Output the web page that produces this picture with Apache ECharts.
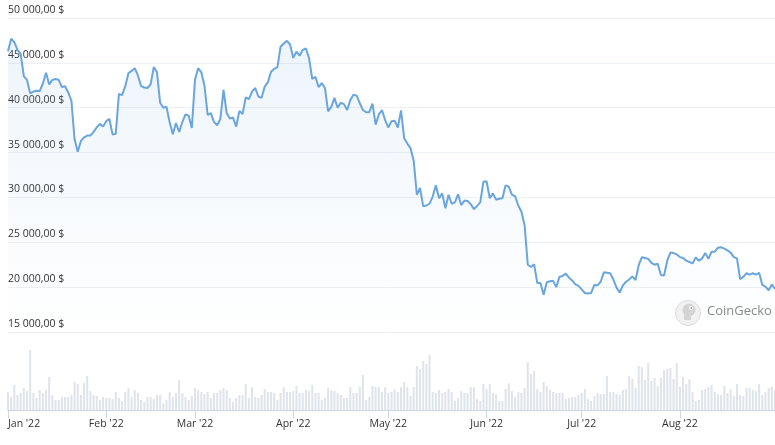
<!DOCTYPE html>
<html>
<head>
<meta charset="utf-8">
<script src="https://cdn.jsdelivr.net/npm/echarts@6/dist/echarts.min.js"></script>
<style>
html,body{margin:0;padding:0;background:#fff;}
#chart{width:775px;height:445px;}
</style>
</head>
<body>
<div id="chart"></div>
<script>
// ---- data (BTC price in USD, one point per day, 2022-01-01 .. 2022-08-31) ----
const startDate = '2022-01-01';
const priceJan = [46300,47700,47300,46450,46000,43500,43100,41600,41800,41900,41850,42700,43900,42600,43100,43200,43100,42300,42400,41700,40800,36500,35100,36300,36700,36900,36900,37300,37800,38200,37900];
const priceFeb = [38500,38750,37000,37100,41550,41400,42400,43850,44100,44400,43600,42400,42250,42200,42600,44550,43950,40550,40000,40100,38400,37050,38300,37300,38400,39250,39100,37750];
const priceMar = [43150,44400,43950,42450,39200,39400,38400,38050,38750,42000,39400,38800,38900,37900,39650,39300,41150,40950,41800,42200,41250,41100,42350,42850,44000,44350,44500,46800,47150,47450,47050];
const priceApr = [45550,46250,45800,46450,46600,45500,43200,43450,42300,42750,42200,39600,40100,41100,40000,40550,40400,39750,40850,41450,41350,40500,39750,39500,39500,40450,38120,39250,39750,38600];
const priceMay = [37800,38500,38550,37800,39700,36600,36000,35500,34100,30300,31050,29000,29100,29300,30100,31350,29900,30450,28800,30300,29300,29450,30350,29150,29650,29600,29250,28700,29050,29450,31750];
const priceJun = [31800,29900,30450,29750,29850,29900,31350,31200,30300,30150,29100,28400,26900,22500,22250,22550,20450,20450,19150,20550,20650,20700,20000,21150,21250,21500,21050,20750,20300,20150];
const priceJul = [19750,19350,19300,19350,20250,20200,20600,21650,21600,21550,20850,19950,19400,20200,20600,20850,21200,20800,22450,23350,23250,23150,22700,22500,22600,21350,21300,22950,23850,23800,23650];
const priceAug = [23350,23250,22950,22800,22650,23300,22950,23200,23800,23150,23950,23950,24400,24450,24300,24100,23850,23350,23200,20900,21150,21550,21400,21550,21400,21600,20250,20050,19650,20300,19800];

// trading volume (billions USD), daily
const volumeJanApr = [18,13,25,15,17,22,19,60,17,12,20,17,20,33,15,10,10,13,13,13,15,28,26,15,27,34,19,15,14,10,13,12,12,11,18,12,9,18,22,13,20,17,10,8,13,13,11,15,15,7,10,18,13,17,30,17,13,10,14,22,20,18,16,18,12,17,17,20,22,20,12,8,12,15,15,26,12,23,13,12,15,21,18,18,17,10,17,23,18,18,19,24,17,17,20,19,25,17,17,10,12,22,20,19,17,15,12,12,23,17,17,23,35,10,13,24,23,23];
const volumeAprAug = [18,23,17,18,21,18,23,28,23,14,23,44,41,49,46,55,18,17,20,17,18,21,18,9,12,19,17,17,23,23,11,9,26,21,26,17,16,9,9,21,27,19,13,18,17,22,48,36,39,21,18,28,24,20,18,17,17,17,11,12,13,13,15,17,21,11,9,14,17,16,16,34,18,18,16,15,20,21,34,31,22,44,43,30,47,29,32,24,32,40,41,42,31,47,23,33,26,31,18,9,10,20,21,23,25,18,16,15,24,17,21,14,26,15,14,22,22,20,19,26,15,18,22,23,20];

const priceTicks = [15000,20000,25000,30000,35000,40000,45000,50000];
const monthNames = ['Jan','Feb','Mar','Apr','May','Jun','Jul','Aug','Sep','Oct','Nov','Dec'];

// ---- build ----
const prices = [].concat(priceJan, priceFeb, priceMar, priceApr, priceMay, priceJun, priceJul, priceAug);
const volumes = [].concat(volumeJanApr, volumeAprAug);
const categories = [];
{
  const d0 = new Date(startDate + 'T00:00:00Z');
  for (let i = 0; i < prices.length; i++) {
    const d = new Date(d0.getTime() + i * 86400000);
    categories.push(d.toISOString().slice(0, 10));
  }
}
const isMonthStart = (idx, val) => val.slice(8, 10) === '01';
const monthLabel = (val) => monthNames[+val.slice(5, 7) - 1] + " '" + val.slice(2, 4);
const fmtPrice = (v) => String(v).replace(/\B(?=(\d{3})+(?!\d))/g, ' ') + ',00 $';

const FONT = '"Open Sans", "DejaVu Sans", sans-serif';
const chart = echarts.init(document.getElementById('chart'), null, {renderer: 'canvas'});
chart.setOption({
  animation: false,
  backgroundColor: '#ffffff',
  grid: [
    {left: 8, right: 0, top: 18, height: 314},
    {left: 8, right: 0, top: 340, height: 70}
  ],
  xAxis: [
    {type: 'category', gridIndex: 0, data: categories, boundaryGap: false, show: false},
    {
      type: 'category', gridIndex: 1, data: categories, boundaryGap: false,
      axisLine: {show: true, lineStyle: {color: '#ccd6eb', width: 1}},
      axisTick: {show: true, interval: isMonthStart, length: 8, lineStyle: {color: '#ccd6eb'}},
      axisLabel: {interval: isMonthStart, formatter: monthLabel, color: '#333333', fontSize: 10.5, fontFamily: FONT, margin: 9, alignMinLabel: 'left'},
      splitLine: {show: false}
    }
  ],
  yAxis: [
    {
      type: 'value', gridIndex: 0, min: priceTicks[0], max: priceTicks[priceTicks.length - 1], interval: 5000,
      position: 'left',
      axisLine: {show: false}, axisTick: {show: false},
      axisLabel: {inside: true, margin: 0, formatter: fmtPrice, color: '#333333', fontSize: 10.5, fontFamily: FONT, verticalAlign: 'bottom', lineHeight: 14, padding: [0, 0, 1, 0]},
      splitLine: {show: true, lineStyle: {color: '#edf0f4', width: 1}}
    },
    {type: 'value', gridIndex: 1, min: 0, max: 70, show: false}
  ],
  series: [
    {
      type: 'bar', xAxisIndex: 1, yAxisIndex: 1, data: volumes,
      barWidth: 2, itemStyle: {color: '#dfe3ea'}, silent: true
    },
    {
      type: 'line', xAxisIndex: 0, yAxisIndex: 0, data: prices,
      symbol: 'none', smooth: false,
      lineStyle: {color: '#6aa6dd', width: 2},
      areaStyle: {
        origin: 'start',
        color: new echarts.graphic.LinearGradient(0, 0, 0, 1, [
          {offset: 0, color: 'rgba(106,166,221,0.17)'},
          {offset: 1, color: 'rgba(106,166,221,0.0)'}
        ])
      },
      z: 3
    }
  ],
  graphic: [
    {type: 'circle', shape: {cx: 688, cy: 313, r: 12.5}, style: {fill: '#f1f1f1', stroke: '#dcdcdc', lineWidth: 1}, z: 10},
    {type: 'circle', shape: {cx: 689, cy: 310, r: 6.5}, style: {fill: '#d4d4d4'}, z: 11},
    {type: 'rect', shape: {x: 684, y: 310, width: 7, height: 10}, style: {fill: '#d4d4d4'}, z: 11},
    {type: 'circle', shape: {cx: 691, cy: 308, r: 2}, style: {fill: '#ffffff'}, z: 12},
    {type: 'circle', shape: {cx: 691.3, cy: 308, r: 0.9}, style: {fill: '#9a9a9a'}, z: 13},
    {type: 'text', left: 707, top: 305, style: {text: 'CoinGecko', fill: '#8a8a8a', font: '13px ' + FONT}, z: 10}
  ]
});
</script>
</body>
</html>
